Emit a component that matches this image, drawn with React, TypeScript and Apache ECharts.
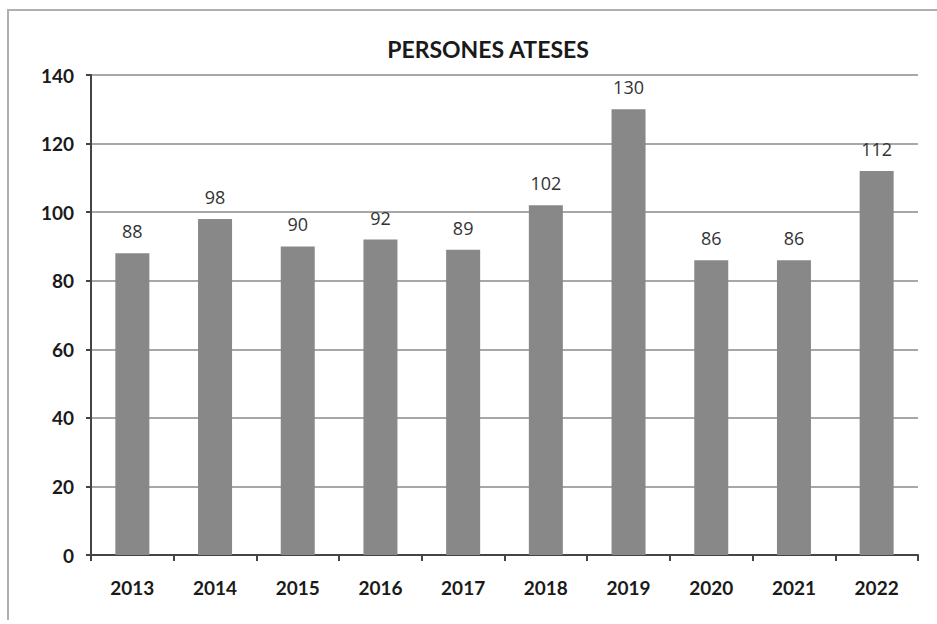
import React, { useEffect, useRef } from "react";
import * as echarts from "echarts";

const categories = ["2013", "2014", "2015", "2016", "2017", "2018", "2019", "2020", "2021", "2022"];
const values = [88, 98, 90, 92, 89, 102, 130, 86, 86, 112];
const title = "PERSONES ATESES";

export default function App() {
  const ref = useRef<HTMLDivElement>(null);
  useEffect(() => {
    if (!ref.current) return;
    const chart = echarts.init(ref.current, null, { renderer: "svg" });
    chart.setOption({
      animation: false,
      backgroundColor: "#ffffff",
      title: {
        text: title,
        left: 483,
        top: 32,
        textAlign: "center",
        textStyle: { fontFamily: "Lato", fontWeight: "bold", fontSize: 23, color: "#1a1a1a" },
      },
      graphic: [
        {
          type: "polyline",
          shape: { points: [[8, 620], [8, 10], [937, 10]] },
          style: { stroke: "#b0b0b0", lineWidth: 2, fill: "none" },
          silent: true,
        },
      ],
      grid: { left: 91, right: 19, top: 75, bottom: 69, containLabel: false },
      xAxis: {
        type: "category",
        data: categories,
        boundaryGap: true,
        axisLine: { lineStyle: { color: "#444", width: 2 } },
        axisTick: { show: true, alignWithLabel: false, length: 6, lineStyle: { color: "#444", width: 2 } },
        axisLabel: { fontFamily: "Lato", fontWeight: "bold", fontSize: 19, color: "#1a1a1a", margin: 23 },
      },
      yAxis: {
        type: "value",
        min: 0,
        max: 140,
        interval: 20,
        axisLine: { show: true, lineStyle: { color: "#444", width: 2 } },
        axisTick: { show: true, length: 5, lineStyle: { color: "#444", width: 2 } },
        splitLine: { lineStyle: { color: "#8a8a8a", width: 1.5 } },
        axisLabel: { fontFamily: "Lato", fontWeight: "bold", fontSize: 19, color: "#1a1a1a", margin: 17 },
      },
      series: [
        {
          type: "bar",
          data: values,
          barWidth: 34,
          itemStyle: { color: "#888888" },
          label: {
            show: true,
            position: "top",
            distance: 13,
            fontFamily: "Open Sans",
            fontSize: 18,
            color: "#333",
          },
        },
      ],
    });
    return () => chart.dispose();
  }, []);
  return <div ref={ref} style={{ width: 937, height: 624, position: "absolute", left: 0, top: 0 }} />;
}
